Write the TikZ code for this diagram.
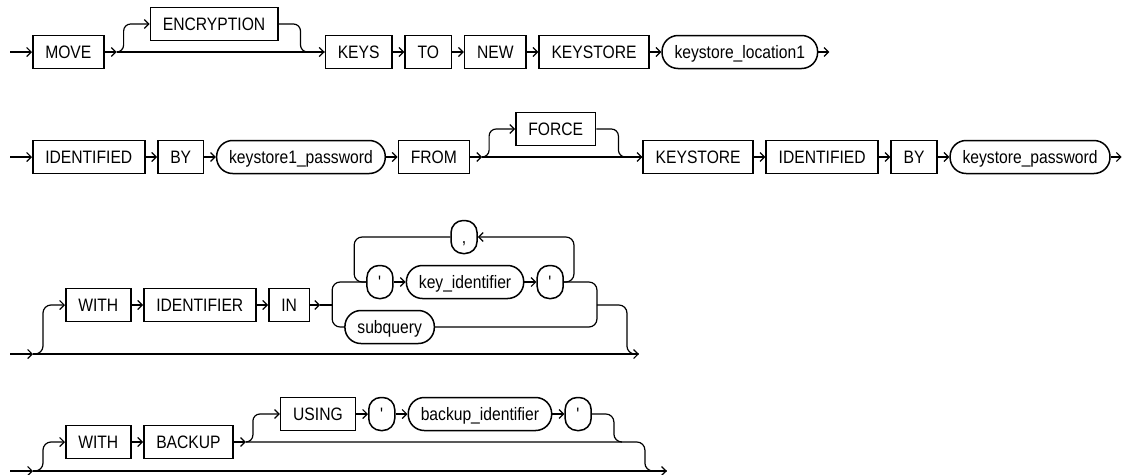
\documentclass[tikz,border=0pt]{standalone}
\usepackage{fontspec}
\setmainfont[FakeStretch=0.87]{Liberation Sans}
\usetikzlibrary{arrows.meta,positioning,calc}

\newcommand{\sq}{\textquotesingle}

\tikzset{
  kw/.style={draw,line width=1.5pt,minimum height=33pt,inner xsep=12.5pt,inner ysep=0pt,
    text height=13pt,text depth=0pt,font=\fontsize{18}{20}\selectfont},
  var/.style={kw,rounded corners=16pt},
  quo/.style={kw,rounded corners=12pt,minimum width=26pt,inner xsep=0pt},
  rail/.style={line width=1.2pt},
  go/.style={rail,-{Straight Barb[length=4.5pt,width=9pt]}},
  loopturn/.style={rail,rounded corners=8pt},
  optturn/.style={rail,rounded corners=7pt},
}

\begin{document}
\begin{tikzpicture}[x=1pt,y=-1pt]
	\useasboundingbox (0,0) rectangle (1124,474);

	% Row 1: MOVE [ENCRYPTION] KEYS TO NEW KEYSTORE
	\coordinate (s1) at (10,52);
	\node[kw,anchor=west] (move) at (32,52) {MOVE};
	\coordinate (m1) at ([xshift=12pt]move.east);
	\path (move.east) ++(45,-28) node[kw,anchor=west] (encr) {ENCRYPTION};
	\path (encr.east) ++(46,28) node[kw,anchor=west] (keys) {KEYS};
	\node[kw,right=11.5pt of keys] (to) {TO};
	\node[kw,right=11.5pt of to] (new) {NEW};
	\node[kw,right=11.5pt of new] (ks1) {KEYSTORE};
	\node[var,right=11.5pt of ks1] (loc) {keystore\_location1};
	\coordinate (e1) at ([xshift=11pt]loc.east);

	\draw[go] (s1) -- (move);
	\draw[go] (move) -- (m1);
	\draw[go] (m1) -- (keys);
	\draw[go,optturn] (m1) -- ++(7,0) |- (encr.west);
	\draw[optturn] (encr.east) -- ++(22,0) |- (keys.west);
	\draw[go] (keys) -- (to);
	\draw[go] (to) -- (new);
	\draw[go] (new) -- (ks1);
	\draw[go] (ks1) -- (loc);
	\draw[go] (loc) -- (e1);

	% Row 2: IDENTIFIED BY ... FROM [FORCE] KEYSTORE IDENTIFIED BY ...
	\coordinate (s2) at (10,157);
	\node[kw,anchor=west] (idf1) at (32,157) {IDENTIFIED};
	\node[kw,right=11.5pt of idf1] (by1) {BY};
	\node[var,right=11.5pt of by1] (pw1) {keystore1\_password};
	\node[kw,right=11.5pt of pw1] (from) {FROM};
	\coordinate (m2) at ([xshift=12pt]from.east);
	\path (from.east) ++(45,-28) node[kw,anchor=west] (force) {FORCE};
	\path (force.east) ++(46,28) node[kw,anchor=west] (ks2) {KEYSTORE};
	\node[kw,right=11.5pt of ks2] (idf2) {IDENTIFIED};
	\node[kw,right=11.5pt of idf2] (by2) {BY};
	\node[var,right=11.5pt of by2] (pw2) {keystore\_password};
	\coordinate (e2) at ([xshift=11pt]pw2.east);

	\draw[go] (s2) -- (idf1);
	\draw[go] (idf1) -- (by1);
	\draw[go] (by1) -- (pw1);
	\draw[go] (pw1) -- (from);
	\draw[go] (from) -- (m2);
	\draw[go] (m2) -- (ks2);
	\draw[go,optturn] (m2) -- ++(7,0) |- (force.west);
	\draw[optturn] (force.east) -- ++(22,0) |- (ks2.west);
	\draw[go] (ks2) -- (idf2);
	\draw[go] (idf2) -- (by2);
	\draw[go] (by2) -- (pw2);
	\draw[go] (pw2) -- (e2);

	% Row 3: [WITH IDENTIFIER IN ( 'key_identifier' {,} | subquery )]
	\coordinate (s3) at (10,354);
	\coordinate (a3) at (33,354);
	\node[kw,anchor=west] (with1) at (65,305) {WITH};
	\node[kw,right=11.5pt of with1] (idr) {IDENTIFIER};
	\node[kw,right=11.5pt of idr] (in) {IN};
	\coordinate (m3) at ([xshift=10pt]in.east);
	\coordinate (v3) at ([xshift=12pt]m3);
	\path (v3) ++(34,-23) node[quo,anchor=west] (q1) {\sq};
	\node[var,right=12pt of q1] (keyid) {key\_identifier};
	\node[quo,right=12pt of keyid] (q2) {\sq};
	\coordinate (ll) at ([xshift=-12pt]q1.west);
	\coordinate (lr) at ([xshift=10pt]q2.east);
	\node[quo] (comma) at ($(ll)!0.5!(lr)+(0,-45)$) {,};
	\path (v3) ++(12,22) node[var,anchor=west] (subq) {subquery};
	\path (q2.east) ++(33,23) coordinate (j3);
	\path (j3) ++(42,49) coordinate (e3);

	\draw[go] (s3) -- (a3);
	\draw[go] (a3) -- (e3);
	\draw[go,loopturn] (a3) -- ++(10,0) |- (with1.west);
	\draw[go] (with1) -- (idr);
	\draw[go] (idr) -- (in);
	\draw[go] (in) -- (m3);
	\draw[rail] (m3) -- (v3);
	\draw[loopturn] (q1.west) -| (v3) |- (subq.west);
	\draw[go] (q1) -- (keyid);
	\draw[go] (keyid) -- (q2);
	\draw[go,loopturn] (q2.east) -| ($(lr)+(0,-45)$) -- (comma.east);
	\draw[loopturn] (comma.west) -| (ll) -- (q1.west);
	\draw[loopturn] (q2.east) -| (j3) |- (subq.east);
	\draw[loopturn] (j3) -- ++(30,0) |- (e3);

	% Row 4: [WITH BACKUP [USING 'backup_identifier']]
	\coordinate (s4) at (10,471);
	\coordinate (a4) at (33,471);
	\node[kw,anchor=west] (with2) at (65,442) {WITH};
	\node[kw,right=11.5pt of with2] (backup) {BACKUP};
	\coordinate (m4) at ([xshift=12pt]backup.east);
	\path (backup.east) ++(46,-28) node[kw,anchor=west] (using) {USING};
	\node[quo,right=12pt of using] (q3) {\sq};
	\node[var,right=12pt of q3] (bkid) {backup\_identifier};
	\node[quo,right=12pt of bkid] (q4) {\sq};
	\path (q4.east) ++(22,28) coordinate (r4);
	\path (r4) ++(31,0) coordinate (k4);
	\path (k4) ++(22,29) coordinate (e4);

	\draw[go] (s4) -- (a4);
	\draw[go] (a4) -- (e4);
	\draw[go,loopturn] (a4) -- ++(10,0) |- (with2.west);
	\draw[go] (with2) -- (backup);
	\draw[go] (backup) -- (m4);
	\draw[go,optturn] (m4) -- ++(7,0) |- (using.west);
	\draw[go] (using) -- (q3);
	\draw[go] (q3) -- (bkid);
	\draw[go] (bkid) -- (q4);
	\draw[loopturn] (q4.east) -| (r4) -- ++(8,0);
	\draw[loopturn] (m4) -- (k4) |- (e4);
\end{tikzpicture}
\end{document}
